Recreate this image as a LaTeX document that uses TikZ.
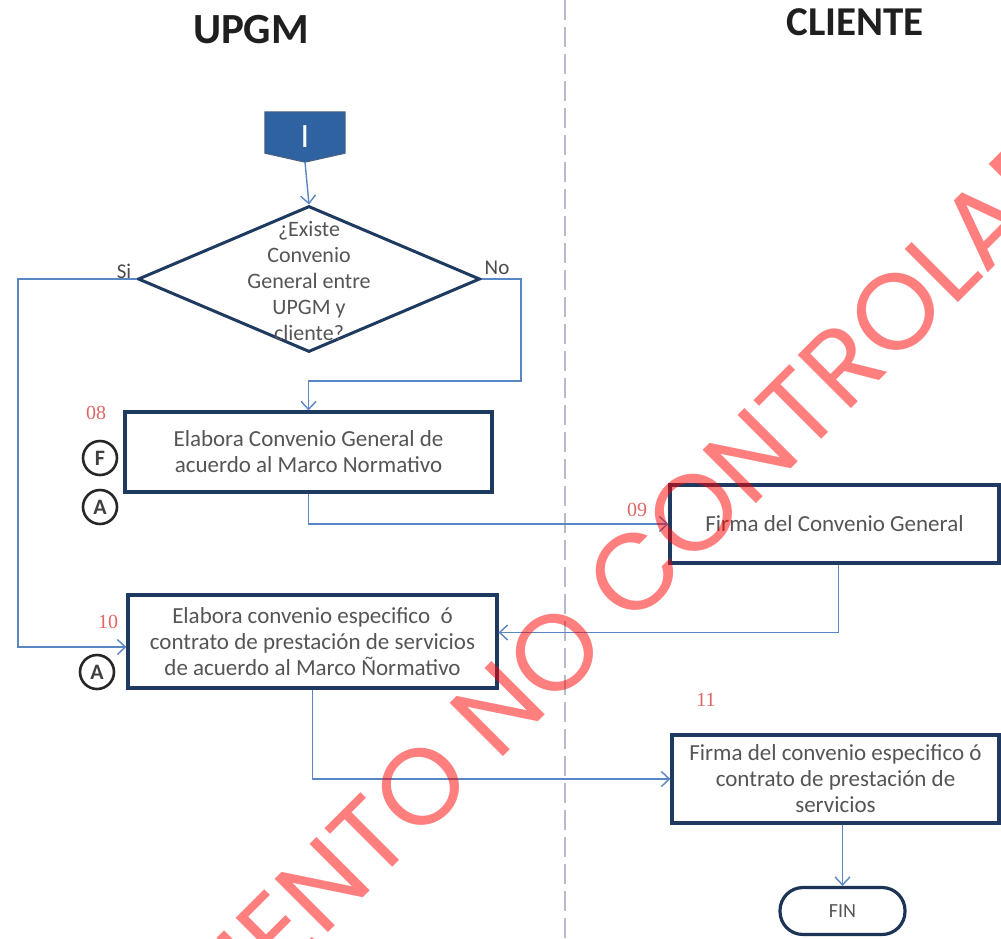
\documentclass[tikz,border=0pt]{standalone}
\usepackage{fontspec}
\setmainfont{Carlito}
\newfontfamily\wmfont{Poppins}
\newfontfamily\numfont{Liberation Serif}
\usetikzlibrary{shapes.geometric,arrows.meta,calc}
\definecolor{navy}{HTML}{1F3A60}
\definecolor{connc}{HTML}{5A86C4}
\definecolor{txtgray}{HTML}{555555}
\definecolor{stepred}{HTML}{E06666}
\definecolor{startblue}{HTML}{2F62A0}
\definecolor{sepgray}{HTML}{B4BCCC}
\begin{document}
\begin{tikzpicture}[x=1pt,y=-1pt,
  box/.style={draw=navy, line width=3.2pt, fill=white, align=center, text=txtgray,
              font=\fontsize{23}{26}\selectfont, inner sep=0pt},
  flow/.style={draw=connc, line width=1.4pt,
               -{Straight Barb[length=8pt,width=15pt,line width=1.4pt]}},
  stepnum/.style={text=stepred, font=\numfont\fontsize{20}{20}\selectfont, inner sep=0pt},
  circ/.style={circle, draw=black!85, line width=2.6pt, minimum size=34pt, inner sep=0pt,
               font=\bfseries\fontsize{22}{22}\selectfont, text=black!75, fill=white},
  title/.style={font=\bfseries\fontsize{43}{43}\selectfont, text=black!88, inner sep=0pt},
  lbl/.style={text=black!70, font=\fontsize{21}{21}\selectfont, inner sep=0pt},
  sep/.style={draw=sepgray, line width=1.3pt, dash pattern=on 20pt off 7pt}
]
\useasboundingbox[fill=white] (0,0) rectangle (1001,938);

% separator
\coordinate (sepT) at (565,0);
\coordinate (sepB) at (565,938);
\draw[sep] (sepT) -- (sepB);

% titles
\node[title] (tU) at (251,30) {UPGM};
\node[title, font=\bfseries\fontsize{41}{41}\selectfont] (tC) at (855,22) {CLIENTE};

% start shape
\node[minimum width=80pt, minimum height=41pt, inner sep=0pt] (st) at (305,132.5) {};
\filldraw[fill=startblue, draw=navy!80, line width=1pt]
  (st.north west) -- (st.north east) -- (st.south east) -- ($(st.south)+(0,9)$) -- (st.south west) -- cycle;
\node[text=white, font=\fontsize{34}{34}\selectfont, inner sep=0pt] (stI) at (305,137) {I};
\coordinate (stB) at ($(st.south)+(0,9)$);

% decision
\node[diamond, draw=navy, line width=3pt, minimum width=342pt, minimum height=146pt,
      inner sep=0pt, fill=white] (dec) at (309,279) {};
\node[align=center, text=txtgray, font=\fontsize{22}{26}\selectfont, inner sep=0pt] (dect)
  at (309,281) {¿Existe\\Convenio\\General entre\\UPGM y\\cliente?};

% boxes
\node[box, minimum width=367pt, minimum height=80pt] (b08) at (308.5,452)
  {Elabora Convenio General de\\acuerdo al Marco Normativo};
\node[box, minimum width=329pt, minimum height=78pt] (b09) at (834.5,524)
  {Firma del Convenio General};
\node[box, minimum width=369pt, minimum height=93pt] (b10) at (312.5,641.5)
  {Elabora convenio especifico\ \ ó\\contrato de prestación de servicios\\de acuerdo al Marco Ñormativo};
\node[box, minimum width=327pt, minimum height=88pt] (b11) at (835.5,779)
  {Firma del convenio especifico ó\\contrato de prestación de\\servicios};
\node[draw=navy!90!black, line width=3.2pt, rounded corners=23pt, minimum width=125pt,
      minimum height=47pt, inner sep=0pt, text=txtgray, font=\fontsize{20}{20}\selectfont,
      fill=white] (fin) at (842.5,911) {FIN};

% step numbers
\node[stepnum] (n08) at (96,413) {08};
\node[stepnum] (n09) at (637,510) {09};
\node[stepnum] (n10) at (108,622) {10};
\node[stepnum] (n11) at (706,700) {11};

% connector circles
\node[circ] (cF) at (100,458) {F};
\node[circ] (cA1) at (100,507) {A};
\node[circ] (cA2) at (97,672) {A};

% labels
\node[lbl] (lsi) at (124,271) {Si};
\node[lbl] (lno) at (497,268) {No};

% connectors
\coordinate (siC) at (18,647);
\coordinate (noC) at (521,381);
\draw[flow] (stB) -- (dec.north);
\draw[flow] (dec.west) -| (siC) -- (siC -| b10.west);
\draw[flow] (dec.east) -| (noC) -| (b08.north);
\draw[flow] (b08.south) |- (b09.west);
\draw[flow] ($(b09.south)+(4,0)$) |- ($(b10.east)+(0,-9)$);
\draw[flow] (b10.south) |- (b11.west);
\draw[flow] (fin.north |- b11.south) -- (fin.north);

% watermark
\node[rotate=45, text=red, text opacity=0.5, inner sep=0pt,
      font=\wmfont\fontsize{108}{108}\selectfont] (wm) at (545,662) {DOCUMENTO NO CONTROLADO};
\end{tikzpicture}
\end{document}
